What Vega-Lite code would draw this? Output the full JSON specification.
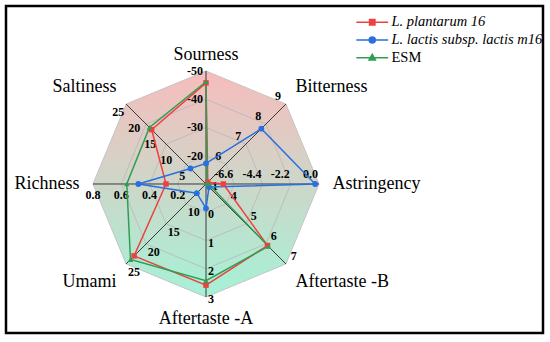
{
  "$schema": "https://vega.github.io/schema/vega-lite/v6.json",
  "width": 537,
  "height": 327,
  "padding": {"left": 6, "top": 6, "right": 7, "bottom": 9},
  "autosize": {"type": "none"},
  "config": {"view": {"stroke": "#000000", "strokeWidth": 2.5}, "font": "Liberation Serif"},
  "datasets": {
    "axes": [
      {"attribute": "Sourness", "k": 0, "min": -10, "max": -50},
      {"attribute": "Bitterness", "k": 1, "min": 5, "max": 9},
      {"attribute": "Astringency", "k": 2, "min": -8.8, "max": 0},
      {"attribute": "Aftertaste -B", "k": 3, "min": 3, "max": 7},
      {"attribute": "Aftertaste -A", "k": 4, "min": -1, "max": 3},
      {"attribute": "Umami", "k": 5, "min": 5, "max": 25},
      {"attribute": "Richness", "k": 6, "min": 0, "max": 0.8},
      {"attribute": "Saltiness", "k": 7, "min": 0, "max": 25}
    ],
    "ticks": [
      {"attribute": "Sourness", "tick": "-20"}, {"attribute": "Sourness", "tick": "-30"}, {"attribute": "Sourness", "tick": "-40"}, {"attribute": "Sourness", "tick": "-50"},
      {"attribute": "Bitterness", "tick": "6"}, {"attribute": "Bitterness", "tick": "7"}, {"attribute": "Bitterness", "tick": "8"}, {"attribute": "Bitterness", "tick": "9"},
      {"attribute": "Astringency", "tick": "-6.6"}, {"attribute": "Astringency", "tick": "-4.4"}, {"attribute": "Astringency", "tick": "-2.2"}, {"attribute": "Astringency", "tick": "0.0"},
      {"attribute": "Aftertaste -B", "tick": "4"}, {"attribute": "Aftertaste -B", "tick": "5"}, {"attribute": "Aftertaste -B", "tick": "6"}, {"attribute": "Aftertaste -B", "tick": "7"},
      {"attribute": "Aftertaste -A", "tick": "-1"}, {"attribute": "Aftertaste -A", "tick": "0"}, {"attribute": "Aftertaste -A", "tick": "1"}, {"attribute": "Aftertaste -A", "tick": "2"}, {"attribute": "Aftertaste -A", "tick": "3"},
      {"attribute": "Umami", "tick": "10"}, {"attribute": "Umami", "tick": "15"}, {"attribute": "Umami", "tick": "20"}, {"attribute": "Umami", "tick": "25"},
      {"attribute": "Richness", "tick": "0.2"}, {"attribute": "Richness", "tick": "0.4"}, {"attribute": "Richness", "tick": "0.6"}, {"attribute": "Richness", "tick": "0.8"},
      {"attribute": "Saltiness", "tick": "5"}, {"attribute": "Saltiness", "tick": "10"}, {"attribute": "Saltiness", "tick": "15"}, {"attribute": "Saltiness", "tick": "20"}, {"attribute": "Saltiness", "tick": "25"}
    ],
    "scores": [
      {"series": "L. plantarum 16", "attribute": "Sourness", "value": -45.8},
      {"series": "L. plantarum 16", "attribute": "Bitterness", "value": 5.09},
      {"series": "L. plantarum 16", "attribute": "Astringency", "value": -7.45},
      {"series": "L. plantarum 16", "attribute": "Aftertaste -B", "value": 6.08},
      {"series": "L. plantarum 16", "attribute": "Aftertaste -A", "value": 2.58},
      {"series": "L. plantarum 16", "attribute": "Umami", "value": 23.0},
      {"series": "L. plantarum 16", "attribute": "Richness", "value": 0.283},
      {"series": "L. plantarum 16", "attribute": "Saltiness", "value": 17.0},
      {"series": "L. lactis subsp. lactis m16", "attribute": "Sourness", "value": -17.3},
      {"series": "L. lactis subsp. lactis m16", "attribute": "Bitterness", "value": 7.77},
      {"series": "L. lactis subsp. lactis m16", "attribute": "Astringency", "value": -0.3},
      {"series": "L. lactis subsp. lactis m16", "attribute": "Aftertaste -B", "value": 3.15},
      {"series": "L. lactis subsp. lactis m16", "attribute": "Aftertaste -A", "value": -0.14},
      {"series": "L. lactis subsp. lactis m16", "attribute": "Umami", "value": 7.3},
      {"series": "L. lactis subsp. lactis m16", "attribute": "Richness", "value": 0.479},
      {"series": "L. lactis subsp. lactis m16", "attribute": "Saltiness", "value": 4.85},
      {"series": "ESM", "attribute": "Sourness", "value": -46.2},
      {"series": "ESM", "attribute": "Bitterness", "value": 5.05},
      {"series": "ESM", "attribute": "Astringency", "value": -8.6},
      {"series": "ESM", "attribute": "Aftertaste -B", "value": 6.12},
      {"series": "ESM", "attribute": "Aftertaste -A", "value": 2.42},
      {"series": "ESM", "attribute": "Umami", "value": 23.9},
      {"series": "ESM", "attribute": "Richness", "value": 0.561},
      {"series": "ESM", "attribute": "Saltiness", "value": 17.7}
    ]
  },
  "layer": [
    {
      "data": {"name": "axes"},
      "transform": [
        {"calculate": "sin(datum.k*PI/4)", "as": "x"},
        {"calculate": "cos(datum.k*PI/4)", "as": "y"}
      ],
      "mark": {"type": "line", "interpolate": "linear-closed", "strokeWidth": 1, "stroke": "#c4c4c4",
        "fill": {"gradient": "linear", "x1": 0, "y1": 0, "x2": 0, "y2": 1,
          "stops": [{"offset": 0, "color": "#f7bcbc"}, {"offset": 1, "color": "#a4f2d6"}]}},
      "encoding": {
        "x": {"field": "x", "type": "quantitative", "scale": {"domain": [-1.769912, 2.982301], "nice": false, "zero": false}, "axis": null},
        "y": {"field": "y", "type": "quantitative", "scale": {"domain": [-1.318584, 1.575221], "nice": false, "zero": false}, "axis": null},
        "order": {"field": "k", "type": "quantitative"}
      }
    },
    {
      "data": {"name": "axes"},
      "transform": [
        {"calculate": "0.25*sin(datum.k*PI/4)", "as": "x"},
        {"calculate": "0.25*cos(datum.k*PI/4)", "as": "y"}
      ],
      "mark": {"type": "line", "interpolate": "linear-closed", "strokeWidth": 0.8, "stroke": "#b8b8b8"},
      "encoding": {"x": {"field": "x", "type": "quantitative"}, "y": {"field": "y", "type": "quantitative"}, "order": {"field": "k", "type": "quantitative"}}
    },
    {
      "data": {"name": "axes"},
      "transform": [
        {"calculate": "0.5*sin(datum.k*PI/4)", "as": "x"},
        {"calculate": "0.5*cos(datum.k*PI/4)", "as": "y"}
      ],
      "mark": {"type": "line", "interpolate": "linear-closed", "strokeWidth": 0.8, "stroke": "#b8b8b8"},
      "encoding": {"x": {"field": "x", "type": "quantitative"}, "y": {"field": "y", "type": "quantitative"}, "order": {"field": "k", "type": "quantitative"}}
    },
    {
      "data": {"name": "axes"},
      "transform": [
        {"calculate": "0.75*sin(datum.k*PI/4)", "as": "x"},
        {"calculate": "0.75*cos(datum.k*PI/4)", "as": "y"}
      ],
      "mark": {"type": "line", "interpolate": "linear-closed", "strokeWidth": 0.8, "stroke": "#b8b8b8"},
      "encoding": {"x": {"field": "x", "type": "quantitative"}, "y": {"field": "y", "type": "quantitative"}, "order": {"field": "k", "type": "quantitative"}}
    },
    {
      "data": {"name": "axes"},
      "transform": [
        {"calculate": "0", "as": "cx"},
        {"calculate": "0", "as": "cy"},
        {"calculate": "sin(datum.k*PI/4)", "as": "vx"},
        {"calculate": "cos(datum.k*PI/4)", "as": "vy"}
      ],
      "mark": {"type": "rule", "color": "#3a3a3a", "strokeWidth": 1},
      "encoding": {
        "x": {"field": "cx", "type": "quantitative"},
        "y": {"field": "cy", "type": "quantitative"},
        "x2": {"field": "vx"},
        "y2": {"field": "vy"}
      }
    },
    {
      "data": {"name": "ticks"},
      "transform": [
        {"lookup": "attribute", "from": {"data": {"name": "axes"}, "key": "attribute", "fields": ["k", "min", "max"]}},
        {"calculate": "(toNumber(datum.tick)-datum.min)/(datum.max-datum.min)", "as": "f"},
        {"calculate": "datum.f*sin(datum.k*PI/4)-cos(datum.k*PI/4)*11/113", "as": "lx"},
        {"calculate": "datum.f*cos(datum.k*PI/4)+sin(datum.k*PI/4)*11/113", "as": "ly"},
        {"filter": "indexof(['Bitterness','Aftertaste -B','Umami','Richness','Saltiness'], datum.attribute) >= 0"}
      ],
      "mark": {"type": "text", "align": "center", "baseline": "middle", "fontSize": 12, "fontWeight": "bold", "color": "#000000"},
      "encoding": {"x": {"field": "lx", "type": "quantitative"}, "y": {"field": "ly", "type": "quantitative"}, "text": {"field": "tick", "type": "nominal"}}
    },
    {
      "data": {"name": "ticks"},
      "transform": [
        {"filter": "datum.attribute === 'Sourness'"},
        {"lookup": "attribute", "from": {"data": {"name": "axes"}, "key": "attribute", "fields": ["k", "min", "max"]}},
        {"calculate": "(toNumber(datum.tick)-datum.min)/(datum.max-datum.min)", "as": "f"},
        {"calculate": "datum.f*sin(datum.k*PI/4)", "as": "x"},
        {"calculate": "datum.f*cos(datum.k*PI/4)", "as": "y"}
      ],
      "mark": {"type": "text", "align": "right", "baseline": "middle", "dx": -3, "fontSize": 12, "fontWeight": "bold", "color": "#000000"},
      "encoding": {"x": {"field": "x", "type": "quantitative"}, "y": {"field": "y", "type": "quantitative"}, "text": {"field": "tick", "type": "nominal"}}
    },
    {
      "data": {"name": "ticks"},
      "transform": [
        {"filter": "datum.attribute === 'Astringency'"},
        {"lookup": "attribute", "from": {"data": {"name": "axes"}, "key": "attribute", "fields": ["k", "min", "max"]}},
        {"calculate": "(toNumber(datum.tick)-datum.min)/(datum.max-datum.min)", "as": "f"},
        {"calculate": "datum.f*sin(datum.k*PI/4)", "as": "x"},
        {"calculate": "datum.f*cos(datum.k*PI/4)", "as": "y"}
      ],
      "mark": {"type": "text", "align": "right", "baseline": "middle", "dx": -1, "dy": -10, "fontSize": 12, "fontWeight": "bold", "color": "#000000"},
      "encoding": {"x": {"field": "x", "type": "quantitative"}, "y": {"field": "y", "type": "quantitative"}, "text": {"field": "tick", "type": "nominal"}}
    },
    {
      "data": {"name": "ticks"},
      "transform": [
        {"filter": "datum.attribute === 'Aftertaste -A'"},
        {"lookup": "attribute", "from": {"data": {"name": "axes"}, "key": "attribute", "fields": ["k", "min", "max"]}},
        {"calculate": "(toNumber(datum.tick)-datum.min)/(datum.max-datum.min)", "as": "f"},
        {"calculate": "datum.f*sin(datum.k*PI/4)", "as": "x"},
        {"calculate": "datum.f*cos(datum.k*PI/4)", "as": "y"}
      ],
      "mark": {"type": "text", "align": "left", "baseline": "middle", "dx": 2, "dy": 2, "fontSize": 12, "fontWeight": "bold", "color": "#000000"},
      "encoding": {"x": {"field": "x", "type": "quantitative"}, "y": {"field": "y", "type": "quantitative"}, "text": {"field": "tick", "type": "nominal"}}
    },
    {
      "data": {"name": "scores"},
      "transform": [
        {"lookup": "attribute", "from": {"data": {"name": "axes"}, "key": "attribute", "fields": ["k", "min", "max"]}},
        {"calculate": "(datum.value-datum.min)/(datum.max-datum.min)", "as": "f"},
        {"calculate": "datum.f*sin(datum.k*PI/4)", "as": "x"},
        {"calculate": "datum.f*cos(datum.k*PI/4)", "as": "y"}
      ],
      "mark": {"type": "line", "interpolate": "linear-closed", "strokeWidth": 1.5},
      "encoding": {
        "x": {"field": "x", "type": "quantitative"},
        "y": {"field": "y", "type": "quantitative"},
        "color": {"field": "series", "type": "nominal", "scale": {"domain": ["L. plantarum 16", "L. lactis subsp. lactis m16", "ESM"], "range": ["#ef4040", "#2a6fe0", "#2e9e55"]}},
        "order": {"field": "k", "type": "quantitative"}
      }
    },
    {
      "data": {"name": "scores"},
      "transform": [
        {"filter": "datum.series === 'L. plantarum 16'"},
        {"lookup": "attribute", "from": {"data": {"name": "axes"}, "key": "attribute", "fields": ["k", "min", "max"]}},
        {"calculate": "(datum.value-datum.min)/(datum.max-datum.min)", "as": "f"},
        {"calculate": "datum.f*sin(datum.k*PI/4)", "as": "x"},
        {"calculate": "datum.f*cos(datum.k*PI/4)", "as": "y"}
      ],
      "mark": {"type": "square", "size": 30, "opacity": 1, "color": "#ef4040"},
      "encoding": {"x": {"field": "x", "type": "quantitative"}, "y": {"field": "y", "type": "quantitative"}}
    },
    {
      "data": {"name": "scores"},
      "transform": [
        {"filter": "datum.series === 'L. lactis subsp. lactis m16'"},
        {"lookup": "attribute", "from": {"data": {"name": "axes"}, "key": "attribute", "fields": ["k", "min", "max"]}},
        {"calculate": "(datum.value-datum.min)/(datum.max-datum.min)", "as": "f"},
        {"calculate": "datum.f*sin(datum.k*PI/4)", "as": "x"},
        {"calculate": "datum.f*cos(datum.k*PI/4)", "as": "y"}
      ],
      "mark": {"type": "circle", "size": 34, "opacity": 1, "color": "#2a6fe0"},
      "encoding": {"x": {"field": "x", "type": "quantitative"}, "y": {"field": "y", "type": "quantitative"}}
    },
    {
      "data": {"name": "scores"},
      "transform": [
        {"filter": "datum.series === 'ESM'"},
        {"lookup": "attribute", "from": {"data": {"name": "axes"}, "key": "attribute", "fields": ["k", "min", "max"]}},
        {"calculate": "(datum.value-datum.min)/(datum.max-datum.min)", "as": "f"},
        {"calculate": "datum.f*sin(datum.k*PI/4)", "as": "x"},
        {"calculate": "datum.f*cos(datum.k*PI/4)", "as": "y"}
      ],
      "mark": {"type": "point", "shape": "triangle-up", "filled": true, "size": 30, "opacity": 1, "color": "#2e9e55"},
      "encoding": {"x": {"field": "x", "type": "quantitative"}, "y": {"field": "y", "type": "quantitative"}}
    },
    {
      "data": {"name": "axes"},
      "transform": [
        {"filter": "datum.k === 0 || datum.k === 4"},
        {"calculate": "sin(datum.k*PI/4)*1.12", "as": "tx"},
        {"calculate": "cos(datum.k*PI/4)*1.12 + (cos(datum.k*PI/4) > 0.1 ? 0.025 : (cos(datum.k*PI/4) < -0.1 ? -0.075 : 0))", "as": "ty"}
      ],
      "mark": {"type": "text", "align": "center", "baseline": "middle", "fontSize": 18, "color": "#000000"},
      "encoding": {"x": {"field": "tx", "type": "quantitative"}, "y": {"field": "ty", "type": "quantitative"}, "text": {"field": "attribute", "type": "nominal"}}
    },
    {
      "data": {"name": "axes"},
      "transform": [
        {"filter": "datum.k >= 1 && datum.k <= 3"},
        {"calculate": "sin(datum.k*PI/4)*1.12", "as": "tx"},
        {"calculate": "cos(datum.k*PI/4)*1.12 + (cos(datum.k*PI/4) > 0.1 ? 0.065 : (cos(datum.k*PI/4) < -0.1 ? -0.075 : 0))", "as": "ty"}
      ],
      "mark": {"type": "text", "align": "left", "baseline": "middle", "fontSize": 18, "color": "#000000"},
      "encoding": {"x": {"field": "tx", "type": "quantitative"}, "y": {"field": "ty", "type": "quantitative"}, "text": {"field": "attribute", "type": "nominal"}}
    },
    {
      "data": {"name": "axes"},
      "transform": [
        {"filter": "datum.k >= 5"},
        {"calculate": "sin(datum.k*PI/4)*1.12", "as": "tx"},
        {"calculate": "cos(datum.k*PI/4)*1.12 + (cos(datum.k*PI/4) > 0.1 ? 0.065 : (cos(datum.k*PI/4) < -0.1 ? -0.075 : 0))", "as": "ty"}
      ],
      "mark": {"type": "text", "align": "right", "baseline": "middle", "fontSize": 18, "color": "#000000"},
      "encoding": {"x": {"field": "tx", "type": "quantitative"}, "y": {"field": "ty", "type": "quantitative"}, "text": {"field": "attribute", "type": "nominal"}}
    },
    {
      "data": {"name": "scores"},
      "transform": [
        {"filter": "datum.attribute === 'Sourness'"},
        {"lookup": "attribute", "from": {"data": {"name": "axes"}, "key": "attribute", "fields": ["k", "min", "max"]}},
        {"calculate": "(datum.value-datum.min)/(datum.max-datum.min)", "as": "f"},
        {"calculate": "datum.f*sin(datum.k*PI/4)", "as": "x"},
        {"calculate": "datum.f*cos(datum.k*PI/4)", "as": "y"}
      ],
      "mark": {"type": "point", "filled": true, "opacity": 0},
      "encoding": {
        "x": {"field": "x", "type": "quantitative"},
        "y": {"field": "y", "type": "quantitative"},
        "color": {
          "field": "series", "type": "nominal",
          "legend": {
            "orient": "none", "legendX": 359, "legendY": 9, "title": null,
            "labelFont": "Liberation Serif", "labelFontSize": 14.5, "labelColor": "#000000",
            "symbolSize": 36, "symbolStrokeWidth": 1.5, "symbolOpacity": 1,
            "labelOffset": 12, "rowPadding": 2.7, "padding": 0, "labelLimit": 400,
            "encode": {
              "symbols": {"update": {"fill": {"scale": "color", "field": "value"}, "stroke": {"scale": "color", "field": "value"}, "opacity": {"value": 1}}},
              "labels": {"update": {"fontStyle": {"signal": "datum.value === 'ESM' ? 'normal' : 'italic'"}}}
            }
          }
        },
        "shape": {
          "field": "series", "type": "nominal",
          "scale": {
            "domain": ["L. plantarum 16", "L. lactis subsp. lactis m16", "ESM"],
            "range": [
              "M-5.3,0H5.3M-0.9,-0.9H0.9V0.9H-0.9Z",
              "M-5.3,0H5.3M-1,0A1,1,0,1,0,1,0A1,1,0,1,0,-1,0Z",
              "M-5.3,0H5.3M0,-1.1L1.05,0.75H-1.05Z"
            ]
          },
          "legend": {
            "orient": "none", "legendX": 359, "legendY": 9, "title": null,
            "labelFont": "Liberation Serif", "labelFontSize": 14.5, "labelColor": "#000000",
            "symbolSize": 36, "symbolStrokeWidth": 1.5, "symbolOpacity": 1,
            "labelOffset": 12, "rowPadding": 2.7, "padding": 0, "labelLimit": 400,
            "encode": {
              "symbols": {"update": {"fill": {"scale": "color", "field": "value"}, "stroke": {"scale": "color", "field": "value"}, "opacity": {"value": 1}}},
              "labels": {"update": {"fontStyle": {"signal": "datum.value === 'ESM' ? 'normal' : 'italic'"}}}
            }
          }
        }
      }
    }
  ]
}
